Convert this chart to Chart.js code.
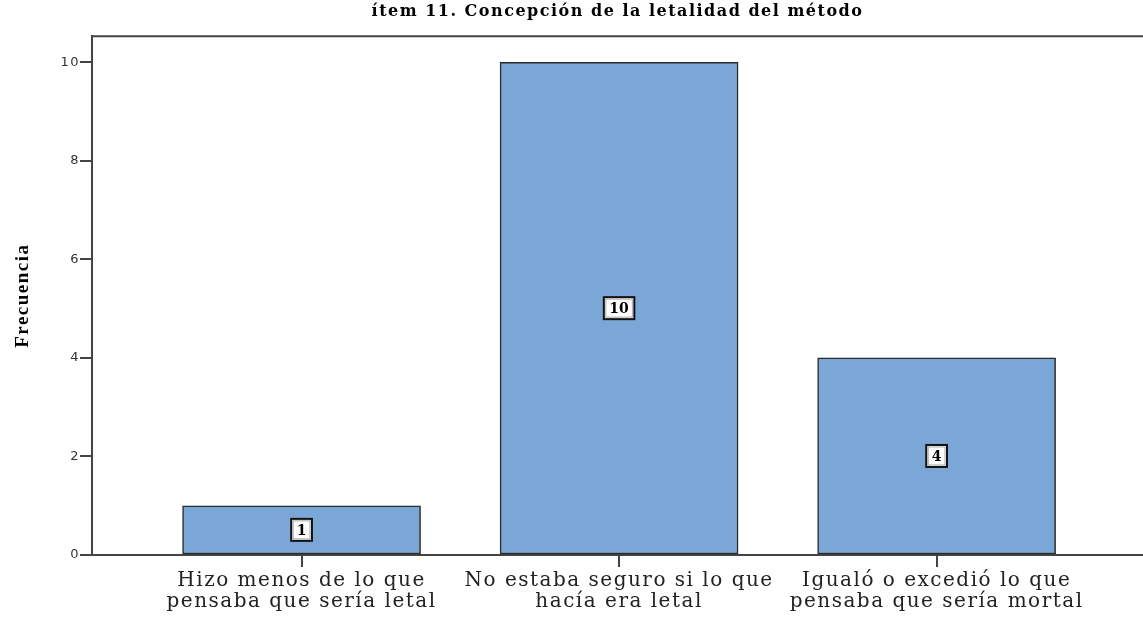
<!DOCTYPE html>
<html>
<head>
<meta charset="utf-8">
<script src="https://cdn.jsdelivr.net/npm/chart.js@4.4.1/dist/chart.umd.min.js"></script>
<style>
  html, body { margin: 0; padding: 0; background: #fff; }
  #wrap { width: 1143px; height: 619px; }
</style>
</head>
<body>
<div id="wrap"><canvas id="chart"></canvas></div>
<script>
"use strict";

const categories = [
  ["Hizo menos de lo que", "pensaba que sería letal"],
  ["No estaba seguro si lo que", "hacía era letal"],
  ["Igualó o excedió lo que", "pensaba que sería mortal"]
];
const counts = [1, 10, 4];
const yTicks = [0, 2, 4, 6, 8, 10];

const barFill = "#7aa7d5";
const lineColor = "#444";

// the reference text is drawn with a bit of extra spacing
const spacing = {
  id: "spacing",
  beforeDraw(chart) { chart.ctx.letterSpacing = "1.5px"; },
  afterDraw(chart) { chart.ctx.letterSpacing = "0px"; }
};

// white boxes with the value in the middle of each bar
const valueBoxes = {
  id: "valueBoxes",
  afterDatasetsDraw(chart) {
    const ctx = chart.ctx;
    const meta = chart.getDatasetMeta(0);
    ctx.save();
    ctx.letterSpacing = "0px";
    ctx.font = "bold 14px 'DejaVu Serif'";
    ctx.textAlign = "center";
    ctx.textBaseline = "middle";
    meta.data.forEach((bar, i) => {
      const txt = String(counts[i]);
      const cx = bar.x;
      const cy = (bar.y + bar.base) / 2;
      const w = ctx.measureText(txt).width + 11;
      const h = 22;
      ctx.fillStyle = "#fff";
      ctx.fillRect(cx - w / 2, cy - h / 2, w, h);
      ctx.strokeStyle = "#aaa";
      ctx.lineWidth = 1;
      ctx.strokeRect(cx - w / 2 + 2, cy - h / 2 + 2, w - 4, h - 4);
      ctx.strokeStyle = "#111";
      ctx.lineWidth = 2;
      ctx.strokeRect(cx - w / 2, cy - h / 2, w, h);
      ctx.fillStyle = "#000";
      ctx.fillText(txt, cx, cy + 1);
    });
    ctx.restore();
  }
};

// top frame line of the plot
const topFrame = {
  id: "topFrame",
  afterDraw(chart) {
    const { ctx, chartArea } = chart;
    ctx.save();
    ctx.strokeStyle = lineColor;
    ctx.lineWidth = 2;
    ctx.beginPath();
    ctx.moveTo(chartArea.left, chartArea.top);
    ctx.lineTo(chart.width, chartArea.top);
    ctx.stroke();
    ctx.restore();
  }
};

new Chart(document.getElementById("chart"), {
  type: "bar",
  data: {
    datasets: [{
      data: counts.map((v, i) => ({ x: i, y: v })),
      backgroundColor: barFill,
      borderColor: "#2a2a2a",
      borderWidth: 1.5,
      borderSkipped: false,
      barThickness: 238
    }]
  },
  options: {
    responsive: true,
    maintainAspectRatio: false,
    animation: false,
    layout: { padding: 0 },
    plugins: {
      legend: { display: false },
      tooltip: { enabled: false },
      title: {
        display: true,
        fullSize: false,
        text: "ítem 11. Concepción de la letalidad del método",
        color: "#000",
        font: { family: "DejaVu Serif", size: 16, weight: "bold" },
        padding: { top: 2, bottom: 15 }
      }
    },
    scales: {
      x: {
        type: "linear",
        offset: false,
        min: -0.66,
        max: 2.65,
        afterFit(s) { s.height = 64; },
        afterBuildTicks(s) { s.ticks = categories.map((c, i) => ({ value: i })); },
        grid: { offset: false, drawOnChartArea: false, drawTicks: true, tickLength: 12, color: lineColor, lineWidth: 2 },
        border: { display: true, color: lineColor, width: 2 },
        ticks: {
          color: "#222",
          padding: 3,
          maxRotation: 0,
          autoSkip: false,
          font: { family: "DejaVu Serif", size: 20, lineHeight: 1.05 },
          callback: (v) => categories[v]
        }
      },
      y: {
        min: 0,
        max: 10.53,
        afterFit(s) { s.width = 92; },
        afterBuildTicks(s) { s.ticks = yTicks.map(v => ({ value: v })); },
        grid: { drawOnChartArea: false, drawTicks: true, tickLength: 12, color: lineColor, lineWidth: 2 },
        border: { display: true, color: lineColor, width: 2 },
        ticks: {
          color: "#333",
          padding: 0,
          font: { family: "DejaVu Sans", size: 13 }
        },
        title: {
          display: true,
          text: "Frecuencia",
          color: "#000",
          padding: { top: 12, bottom: 0 },
          font: { family: "Liberation Serif", size: 19, weight: "bold" }
        }
      }
    }
  },
  plugins: [spacing, valueBoxes, topFrame]
});
</script>
</body>
</html>
